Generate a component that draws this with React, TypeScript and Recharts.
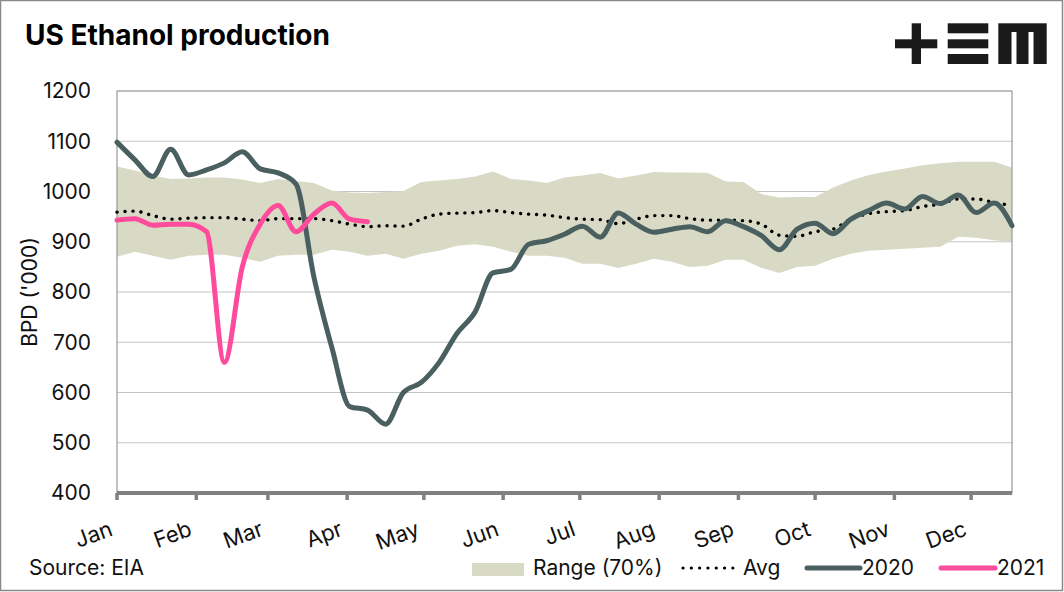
import React from "react";
import { ComposedChart, Line, Area, XAxis, YAxis, CartesianGrid, ReferenceArea } from "recharts";

const days = [0, 7, 14, 21, 28, 35, 42, 49, 56, 63, 70, 77, 84, 91, 98, 105, 112, 119, 126, 133, 140, 147, 154, 161, 168, 175, 182, 189, 196, 203, 210, 217, 224, 231, 238, 245, 252, 259, 266, 273, 280, 287, 294, 301, 308, 315, 322, 329, 336, 343, 350];
const monthTicks = [0, 31, 59, 90, 120, 151, 181, 212, 243, 273, 304, 334];
const monthLabels = ["Jan", "Feb", "Mar", "Apr", "May", "Jun", "Jul", "Aug", "Sep", "Oct", "Nov", "Dec"];
const yTicks = [400, 500, 600, 700, 800, 900, 1000, 1100, 1200];

const rangeHigh = [1050, 1042, 1032, 1025, 1026, 1028, 1028, 1024, 1017, 1025, 1021, 1017, 1002, 998, 997, 999, 1001, 1019, 1022, 1025, 1030, 1040, 1025, 1022, 1017, 1028, 1032, 1037, 1026, 1032, 1039, 1038, 1038, 1037, 1020, 1019, 995, 988, 989, 989, 1008, 1022, 1033, 1040, 1046, 1052, 1056, 1059, 1059, 1059, 1048];
const rangeLow = [870, 880, 872, 864, 872, 874, 874, 868, 860, 872, 874, 874, 884, 880, 872, 876, 866, 876, 882, 892, 895, 890, 880, 872, 872, 868, 856, 856, 848, 856, 866, 860, 850, 852, 864, 864, 848, 838, 850, 852, 866, 876, 882, 884, 886, 888, 890, 910, 908, 903, 900];
const avgValues = [959, 961, 952, 945, 947, 948, 948, 945, 942, 946, 946, 946, 942, 935, 930, 932, 931, 945, 955, 957, 958, 962, 958, 955, 953, 948, 945, 944, 936, 945, 952, 952, 946, 943, 943, 942, 935, 913, 911, 920, 925, 945, 956, 960, 962, 970, 975, 985, 985, 978, 972];
const values2020 = [1098, 1063, 1030, 1084, 1033, 1043, 1057, 1079, 1045, 1037, 1015, 830, 690, 572, 565, 537, 600, 620, 660, 718, 760, 838, 845, 895, 902, 915, 931, 909, 957, 935, 919, 925, 930, 920, 942, 930, 912, 884, 925, 937, 916, 945, 962, 977, 965, 990, 976, 993, 958, 977, 932];
const values2021 = [943, 946, 933, 935, 935, 920, 660, 850, 935, 972, 920, 955, 977, 945, 940];

const data = days.map((d, i) => ({
  day: d,
  range: [rangeLow[i], rangeHigh[i]],
  avg: avgValues[i],
  y2020: values2020[i],
  y2021: i < values2021.length ? values2021[i] : null,
}));

const FONT = "Inter, 'Liberation Sans', Arial, sans-serif";
const C_RANGE = "#d9dac5";
const C_2020 = "#4a5f5f";
const C_2021 = "#ff4b9b";

const MonthTick = (props: any) => {
  const { x, y, payload } = props;
  const idx = monthTicks.indexOf(payload.value);
  return (
    <g transform={`translate(${x - 3},${y + 33}) rotate(-20)`}>
      <text x={0} y={0} textAnchor="end" fontSize={22} fill="#111" fontFamily={FONT}>
        {monthLabels[idx]}
      </text>
    </g>
  );
};

export default function App() {
  return (
    <div style={{ position: "absolute", left: 0, top: 0, width: 1064, height: 592, background: "#fff", fontFamily: FONT }}>
      <ComposedChart
        width={1064}
        height={592}
        data={data}
        margin={{ top: 91, right: 52, bottom: 39, left: 57 }}
      >
        <CartesianGrid vertical={false} stroke="#c4c4c4" strokeWidth={1} />
        <XAxis
          dataKey="day"
          type="number"
          domain={[0, 350]}
          ticks={monthTicks}
          interval={0}
          height={60}
          axisLine={{ stroke: "#808080", strokeWidth: 4 }}
          tickLine={{ stroke: "#808080", strokeWidth: 3.5 }}
          tickSize={7}
          tick={<MonthTick />}
        />
        <YAxis
          type="number"
          domain={[400, 1200]}
          ticks={yTicks}
          width={60}
          axisLine={false}
          tickLine={false}
          tickSize={0}
          tickMargin={26}
          tick={{ fontSize: 21, fill: "#111", fontFamily: FONT }}
        />
        <Area
          dataKey="range"
          type="linear"
          fill={C_RANGE}
          fillOpacity={1}
          stroke="none"
          isAnimationActive={false}
          dot={false}
          activeDot={false}
        />
        <ReferenceArea x1={0} x2={350} y1={400} y2={1200} fill="none" stroke="#9a9a9a" strokeWidth={1.2} ifOverflow="visible" />
        <Line
          dataKey="avg"
          type="monotone"
          stroke="#000"
          strokeWidth={3.4}
          strokeDasharray="0.1 7.9"
          strokeLinecap="round"
          dot={false}
          activeDot={false}
          isAnimationActive={false}
        />
        <Line
          dataKey="y2020"
          type="monotone"
          stroke={C_2020}
          strokeWidth={5}
          strokeLinecap="round"
          dot={false}
          activeDot={false}
          isAnimationActive={false}
        />
        <Line
          dataKey="y2021"
          type="monotone"
          stroke={C_2021}
          strokeWidth={5}
          strokeLinecap="round"
          dot={false}
          activeDot={false}
          connectNulls={false}
          isAnimationActive={false}
        />
      </ComposedChart>
      <svg
        width={1064}
        height={592}
        style={{ position: "absolute", left: 0, top: 0, pointerEvents: "none" }}
      >
        <rect x={0.5} y={0.5} width={1062} height={590} fill="none" stroke="#8a8a8a" strokeWidth={1.5} />
        <text x={25} y={45} fontSize={28} fontWeight={700} fill="#000" fontFamily={FONT}>
          US Ethanol production
        </text>
        {/* logo */}
        <g fill="#1a1a1a">
          <rect x={895} y={39.3} width={42.3} height={9} />
          <rect x={911.7} y={23.3} width={9.3} height={40.7} />
          <rect x={947.7} y={23.3} width={40.6} height={10} />
          <rect x={947.7} y={39.3} width={40.6} height={9} />
          <rect x={947.7} y={54} width={40.6} height={10} />
          <rect x={998.3} y={23.3} width={48.4} height={40.7} />
        </g>
        <g fill="#fff">
          <rect x={1011.5} y={32} width={5} height={33} />
          <rect x={1028.5} y={32} width={5} height={33} />
        </g>
        <text
          transform="translate(37,292) rotate(-90)"
          textAnchor="middle"
          fontSize={21}
          fill="#111"
          fontFamily={FONT}
        >
          BPD ('000)
        </text>
        <text x={29} y={575} fontSize={21} fill="#111" fontFamily={FONT}>
          Source: EIA
        </text>
        {/* legend */}
        <rect x={472} y={563} width={52} height={13} fill={C_RANGE} />
        <text x={533} y={575} fontSize={21} fill="#111" fontFamily={FONT}>
          Range (70%)
        </text>
        <line x1={683} y1={568} x2={733} y2={568} stroke="#000" strokeWidth={3.2} strokeDasharray="0.1 8.2" strokeLinecap="round" />
        <text x={743} y={575} fontSize={21} fill="#111" fontFamily={FONT}>
          Avg
        </text>
        <line x1={807} y1={568} x2={860} y2={568} stroke={C_2020} strokeWidth={5} strokeLinecap="round" />
        <text x={862} y={575} fontSize={21} fill="#111" fontFamily={FONT}>
          2020
        </text>
        <line x1={941} y1={568} x2={995} y2={568} stroke={C_2021} strokeWidth={5} strokeLinecap="round" />
        <text x={997} y={575} fontSize={21} fill="#111" fontFamily={FONT}>
          2021
        </text>
      </svg>
    </div>
  );
}
